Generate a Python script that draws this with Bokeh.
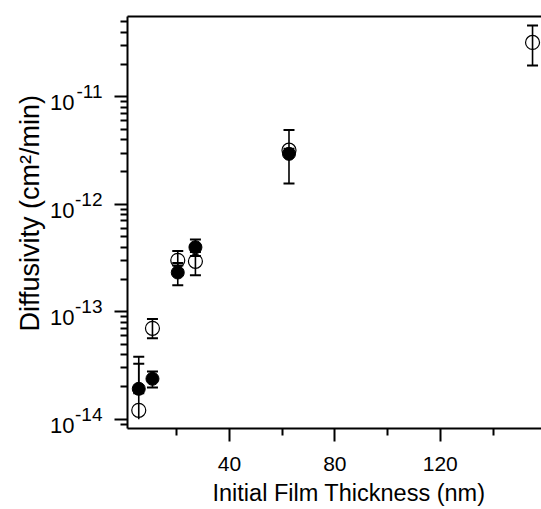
import numpy as np
from bokeh.plotting import figure
from bokeh.models import (FixedTicker, LinearAxis, LogAxis, Title, Range1d,
                          CustomJSTickFormatter, LogScale)
from bokeh.embed import file_html
from bokeh.resources import INLINE

# ---- data ----
filled_x = [5.6, 10.8, 20.4, 27.1, 62.6]
filled_d = [1.92e-14, 2.38e-14, 2.32e-13, 3.99e-13, 2.95e-12]
filled_lo = [1.75e-14, 1.97e-14, 1.77e-13, 3.6e-13, 1.56e-12]
filled_hi = [3.28e-14, 2.78e-14, 2.85e-13, 4.71e-13, 3.3e-12]

open_x = [5.6, 10.8, 20.4, 27.1, 62.6, 155.0]
open_d = [1.21e-14, 7.02e-14, 3.01e-13, 2.95e-13, 3.19e-12, 3.21e-11]
open_lo = [1.0e-14, 5.67e-14, 2.7e-13, 2.19e-13, 2.9e-12, 1.96e-11]
open_hi = [3.81e-14, 8.55e-14, 3.67e-13, 3.3e-13, 4.92e-12, 4.61e-11]
open_lo_cap = [False, True, True, True, True, True]

x_major = [40, 80, 120]
x_minor = [20, 60, 100, 140]
y_major = [1e-14, 1e-13, 1e-12, 1e-11]
y_minor = [m * 10.0 ** e for e in range(-15, -9) for m in range(2, 10)]

x_title = "Initial Film Thickness (nm)"
y_title = "Diffusivity (cm\u00b2/min)"

FONT = "Liberation Sans"
Y0, Y1 = 8.2e-15, 5.6e-11
FRAME_H = 509 - 16 - 79
PX_PER_DEC = FRAME_H / np.log10(Y1 / Y0)

p = figure(width=541, height=509, y_axis_type="log",
           x_range=Range1d(1.33, 158.4), y_range=Range1d(Y0, Y1),
           output_backend="svg", toolbar_location=None,
           min_border_left=127, min_border_right=0, min_border_top=16,
           min_border_bottom=79)
p.outline_line_color = None
p.xgrid.visible = False
p.ygrid.visible = False
p.background_fill_color = "white"
p.border_fill_color = "white"

# label-shifted ranges: "10" sits a little below its tick, the exponent a little above
f_mant = 10 ** (6 / PX_PER_DEC)
f_exp = 10 ** (-5 / PX_PER_DEC)
p.extra_y_ranges = {"mant": Range1d(Y0 * f_mant, Y1 * f_mant),
                    "expo": Range1d(Y0 * f_exp, Y1 * f_exp)}
p.extra_y_scales = {"mant": LogScale(), "expo": LogScale()}

# x axis
xa = p.xaxis[0]
xa.ticker = FixedTicker(ticks=x_major, minor_ticks=x_minor)
xa.axis_line_width = 2
xa.major_tick_line_width = 2
xa.minor_tick_line_width = 2
xa.major_tick_out = 13
xa.major_tick_in = 0
xa.minor_tick_out = 7
xa.minor_tick_in = 0
xa.major_label_text_font = FONT
xa.major_label_text_font_size = "21px"
xa.major_label_text_color = "black"
xa.major_label_standoff = 15

# y axis (inner): ticks only
ya = p.yaxis[0]
ya.ticker = FixedTicker(ticks=y_major, minor_ticks=y_minor)
ya.formatter = CustomJSTickFormatter(code="return ''")
ya.axis_line_width = 2
ya.major_tick_line_width = 2
ya.minor_tick_line_width = 2
ya.major_tick_out = 13
ya.major_tick_in = 0
ya.minor_tick_out = 7
ya.minor_tick_in = 0
ya.major_label_standoff = 0
ya.major_label_text_font_size = "1px"

# exponent labels
ya_e = LogAxis(y_range_name="expo", ticker=FixedTicker(ticks=y_major),
               formatter=CustomJSTickFormatter(code="return String(Math.round(Math.log10(tick)))"))
# mantissa labels
ya_m = LogAxis(y_range_name="mant", ticker=FixedTicker(ticks=y_major),
               formatter=CustomJSTickFormatter(code="return '10'"))
for ax, size, so in ((ya_e, "19px", 12), (ya_m, "22px", -2)):
    ax.axis_line_color = None
    ax.major_tick_out = 0
    ax.major_tick_in = 0
    ax.minor_tick_out = 0
    ax.minor_tick_in = 0
    ax.major_label_text_font = FONT
    ax.major_label_text_font_size = size
    ax.major_label_text_color = "black"
    ax.major_label_standoff = so
    p.add_layout(ax, "left")

# top frame line
top = LinearAxis(ticker=FixedTicker(ticks=[]), formatter=CustomJSTickFormatter(code="return ''"))
top.axis_line_width = 2
top.major_tick_out = 0
top.minor_tick_out = 0
top.major_label_standoff = 0
p.add_layout(top, "above")

# axis titles
p.add_layout(Title(text=y_title, align="left", offset=97, standoff=5,
                   text_font=FONT, text_font_size="27px", text_font_style="normal",
                   text_color="black"), "left")
p.add_layout(Title(text=x_title, align="left", offset=85, standoff=8,
                   text_font=FONT, text_font_size="23.5px", text_font_style="normal",
                   text_color="black"), "below")

# error bars
p.segment(x0=filled_x, y0=filled_lo, x1=filled_x, y1=filled_hi, line_color="black", line_width=1.6)
p.segment(x0=open_x, y0=open_lo, x1=open_x, y1=open_hi, line_color="black", line_width=1.6)
cap_x = filled_x + filled_x + open_x + [x for x, c in zip(open_x, open_lo_cap) if c]
cap_y = filled_lo + filled_hi + open_hi + [y for y, c in zip(open_lo, open_lo_cap) if c]
p.scatter(cap_x, cap_y, marker="dash", size=11, line_color="black", line_width=2)

# markers
p.scatter(open_x, open_d, marker="circle", size=14, fill_color=None, line_color="black", line_width=1.2)
p.scatter(filled_x, filled_d, marker="circle", size=13, fill_color="black", line_color="black", line_width=1)

open("out.html", "w").write(file_html(p, INLINE))
